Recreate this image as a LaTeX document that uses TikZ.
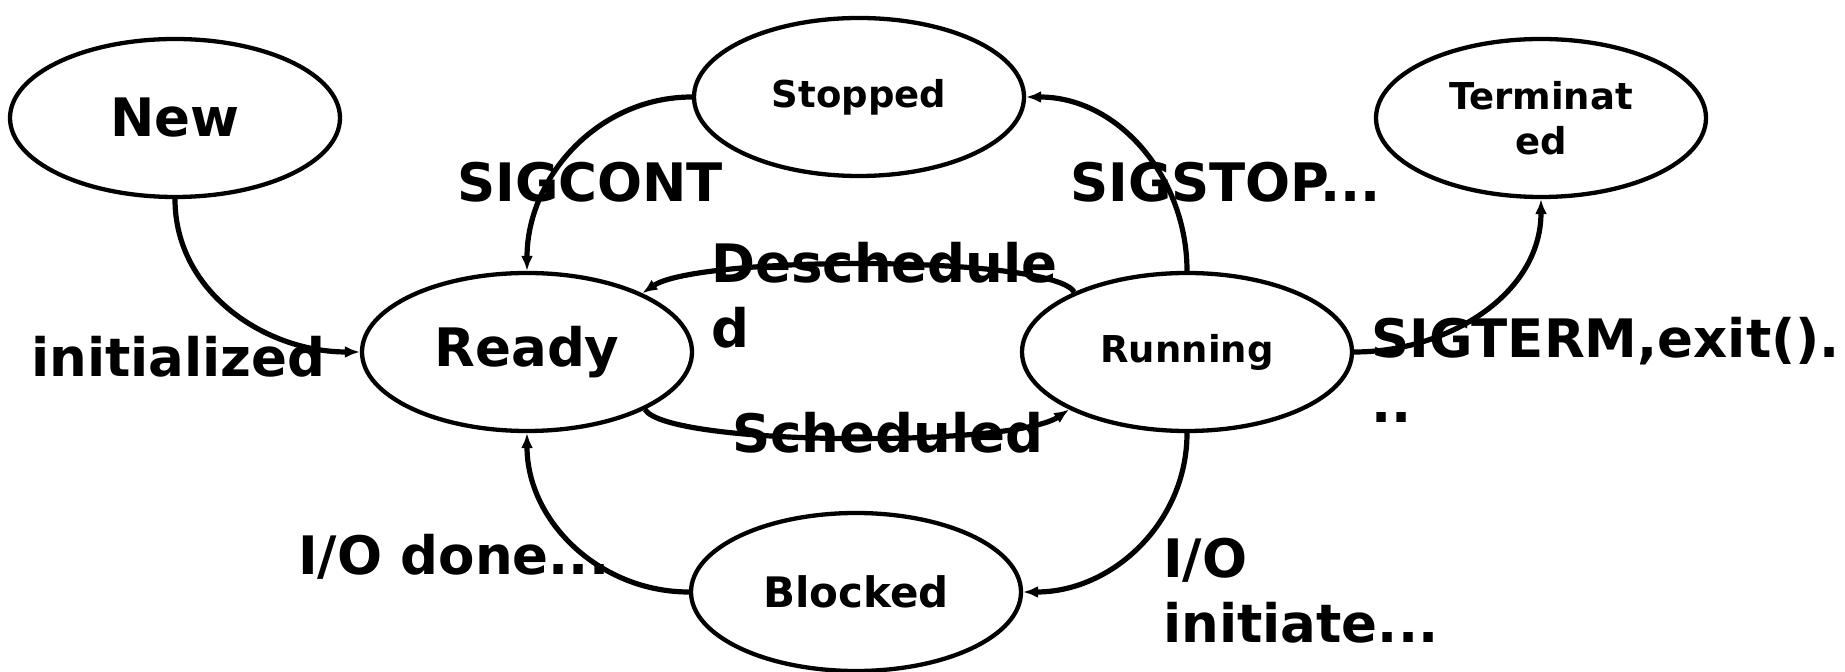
\documentclass[tikz,border=0pt]{standalone}
\usepackage{fontspec}
\setmainfont{DejaVu Sans}
\usetikzlibrary{shapes.geometric,arrows.meta}
\begin{document}
\begin{tikzpicture}[x=1pt,y=1pt,
  state/.style={draw, line width=4.3pt, ellipse, minimum width=330pt, minimum height=158pt, inner sep=0pt, font=\bfseries, align=center},
  big/.style={font=\fontsize{53}{65}\selectfont\bfseries},
  mid/.style={font=\fontsize{42}{50}\selectfont\bfseries},
  small/.style={font=\fontsize{37}{45}\selectfont\bfseries},
  edge/.style={line width=5.2pt, -{Latex[length=15pt,width=12pt]}},
  lbl/.style={anchor=base west, inner sep=0pt, align=left, font=\fontsize{53}{65}\selectfont\bfseries}]
\useasboundingbox (0,0) rectangle (1845,672);
\node[state, big] (new) at (175,554) {New};
\node[state, small] (stopped) at (859,575) {Stopped};
\node[state, small] (term) at (1541,554) {Terminat\\ed};
\node[state, big] (ready) at (527,320) {Ready};
\node[state, small] (run) at (1187,320) {Running};
\node[state, mid] (blocked) at (856,80) {Blocked};

\draw[edge] (new.south) to[out=-90,in=180] (ready.west);
\draw[edge] (stopped.west) to[out=180,in=90] (ready.north);
\draw[edge] (run.north) to[out=90,in=0] (stopped.east);
\draw[edge] (run.east) to[out=0,in=-90] (term.south);
\draw[edge] (run.south) to[out=-90,in=0] (blocked.east);
\draw[edge] (blocked.west) to[out=180,in=-90] (ready.south);
\draw[edge] (run.152) .. controls +(-23,37) and +(56,38) .. (ready.27);
\draw[edge] (ready.-26) .. controls +(23,-37) and +(-56,-38) .. (run.-154);

\node[lbl] (lsigcont) at (457,470) {SIGCONT};
\node[lbl] (lsigstop) at (1070,470) {SIGSTOP...};
\node[lbl] (ldesched) at (711,324) {Deschedule\\d};
\node[lbl] (lsched) at (732,219) {Scheduled};
\node[lbl] (linit) at (31,295) {initialized};
\node[lbl] (lsigterm) at (1371,249) {SIGTERM,exit().\\..};
\node[lbl] (liodone) at (298,97) {I/O done...};
\node[lbl] (lioinit) at (1163,29) {I/O\\initiate...};
\end{tikzpicture}
\end{document}
